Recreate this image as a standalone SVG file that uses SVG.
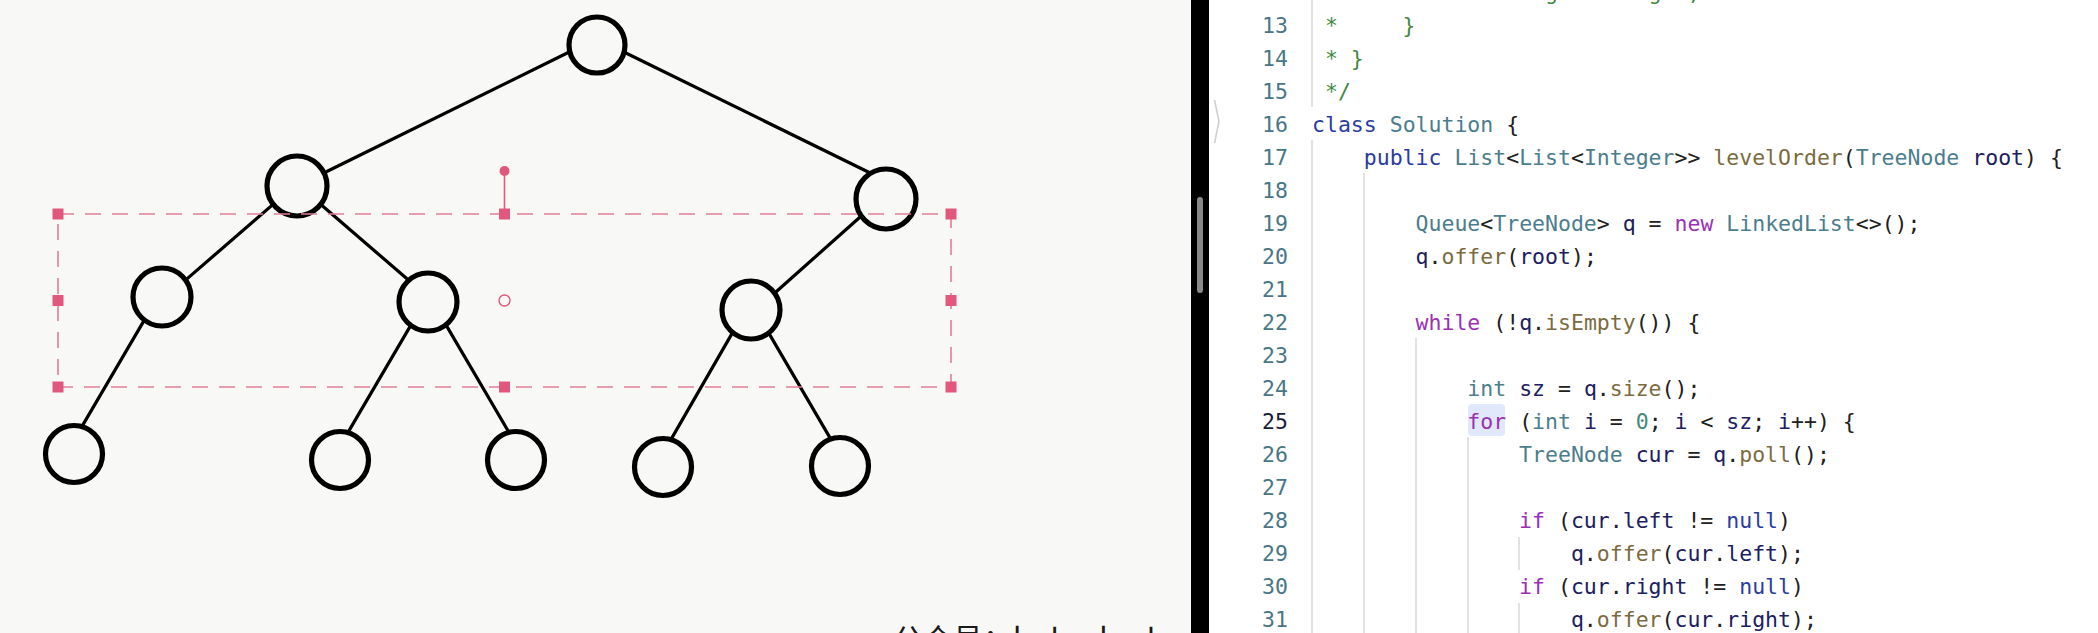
<svg xmlns="http://www.w3.org/2000/svg" width="2098" height="633" viewBox="0 0 2098 633" xml:space="preserve">
<defs>
<style>
.bg{fill:#f8f8f6}
.node{fill:#f8f8f6;stroke:#000;stroke-width:5.2}
.edge{stroke:#000;stroke-width:3.2;stroke-linecap:round;fill:none}
.sel{fill:none;stroke:#e27d99;stroke-width:1.6;stroke-dasharray:16 11}
.hdl{fill:#e2587c}
.code{font-family:"DejaVu Sans Mono","Liberation Mono",monospace;font-size:21.5px;fill:#202020;white-space:pre}
.ln{font-family:"DejaVu Sans Mono","Liberation Mono",monospace;font-size:21.5px;fill:#497686;text-anchor:end}
.cm{fill:#3e8a3e}
.kw{fill:#9b30b5}
.kw2{fill:#2b3ca0}
.ty{fill:#4b7d8d}
.fn{fill:#7b6b3e}
.va{fill:#1c2060}
.nu{fill:#3f8a78}
.guide{stroke:#d9d9d9;stroke-width:1.5}
</style>
</defs>
<rect class="bg" x="0" y="0" width="1191" height="633"/>
<rect x="1209" y="0" width="889" height="633" fill="#ffffff"/>

<g id="connectors">
<line class="edge" x1="573.8" y1="49.7" x2="319.2" y2="175.3"/>
<line class="edge" x1="617.2" y1="48.7" x2="872.8" y2="174.3"/>
<line class="edge" x1="279.1" y1="199.1" x2="178.9" y2="285.9"/>
<line class="edge" x1="315.9" y1="200.2" x2="415.1" y2="285.8"/>
<line class="edge" x1="148.1" y1="313.6" x2="77.9" y2="433.4"/>
<line class="edge" x1="414.1" y1="319.6" x2="343.9" y2="439.4"/>
<line class="edge" x1="442.9" y1="319.6" x2="513.1" y2="439.4"/>
<line class="edge" x1="868" y1="210" x2="768" y2="299"/>
<line class="edge" x1="736" y1="326.6" x2="667" y2="446.4"/>
<line class="edge" x1="765" y1="326.6" x2="835" y2="446.4"/>
</g>

<g id="node-root"><circle class="node" cx="597" cy="45" r="28"/></g>
<g id="node-l1-left"><circle class="node" cx="297" cy="186" r="30"/></g>
<g id="node-l1-right"><circle class="node" cx="886" cy="199" r="30"/></g>
<g id="node-l2-a"><circle class="node" cx="162" cy="297" r="29"/></g>
<g id="node-l2-b"><circle class="node" cx="428" cy="302" r="29"/></g>
<g id="node-l2-c"><circle class="node" cx="751" cy="310" r="29"/></g>
<g id="node-leaf-1"><circle class="node" cx="74" cy="454" r="28.5"/></g>
<g id="node-leaf-2"><circle class="node" cx="340" cy="460" r="28.5"/></g>
<g id="node-leaf-3"><circle class="node" cx="516" cy="460" r="28.5"/></g>
<g id="node-leaf-4"><circle class="node" cx="663" cy="467" r="28.5"/></g>
<g id="node-leaf-5"><circle class="node" cx="840" cy="466" r="28.5"/></g>

<g id="selection">
<rect class="sel" x="58" y="214" width="893" height="173"/>
<line x1="504.5" y1="175" x2="504.5" y2="210" stroke="#e2587c" stroke-width="1.6"/>
<circle cx="504.5" cy="171" r="5" fill="#e2587c"/>
<circle cx="504.5" cy="300.5" r="5.5" fill="none" stroke="#e2587c" stroke-width="1.4"/>
<rect class="hdl" x="52.5" y="208.5" width="11" height="11"/>
<rect class="hdl" x="499" y="208.5" width="11" height="11"/>
<rect class="hdl" x="945.5" y="208.5" width="11" height="11"/>
<rect class="hdl" x="52.5" y="295" width="11" height="11"/>
<rect class="hdl" x="945.5" y="295" width="11" height="11"/>
<rect class="hdl" x="52.5" y="381.5" width="11" height="11"/>
<rect class="hdl" x="499" y="381.5" width="11" height="11"/>
<rect class="hdl" x="945.5" y="381.5" width="11" height="11"/>
</g>

<text x="893" y="650" font-family="'Noto Sans CJK SC','Noto Sans',sans-serif" font-size="30" fill="#1a1a1a">公众号：<tspan letter-spacing="6">labuladong</tspan></text>

<g id="divider">
<rect x="1191" y="0" width="18" height="633" fill="#000"/>
<rect x="1197" y="197" width="6" height="96" rx="3" fill="#8a8a8a"/>
<path d="M1214.5,100 L1219,121.5 L1214.5,143" fill="none" stroke="#cfcfcf" stroke-width="1.6"/>
</g>

<g id="guides">
<line class="guide" x1="1312" y1="0" x2="1312" y2="107"/>
<line class="guide" x1="1312" y1="140" x2="1312" y2="633"/>
<line class="guide" x1="1364" y1="173" x2="1364" y2="633"/>
<line class="guide" x1="1416" y1="338" x2="1416" y2="633"/>
<line class="guide" x1="1468" y1="437" x2="1468" y2="633"/>
<line class="guide" x1="1519" y1="537" x2="1519" y2="570"/>
<line class="guide" x1="1519" y1="603" x2="1519" y2="633"/>
</g>

<rect x="1468" y="404" width="37" height="32" rx="4" fill="#e1e8fb"/>

<g id="line-numbers">
<text class="ln" x="1288" y="-0.2">12</text>
<text class="ln" x="1288" y="32.8">13</text>
<text class="ln" x="1288" y="65.8">14</text>
<text class="ln" x="1288" y="98.8">15</text>
<text class="ln" x="1288" y="131.8">16</text>
<text class="ln" x="1288" y="164.8">17</text>
<text class="ln" x="1288" y="197.8">18</text>
<text class="ln" x="1288" y="230.8">19</text>
<text class="ln" x="1288" y="263.8">20</text>
<text class="ln" x="1288" y="296.8">21</text>
<text class="ln" x="1288" y="329.8">22</text>
<text class="ln" x="1288" y="362.8">23</text>
<text class="ln" x="1288" y="395.8">24</text>
<text class="ln" x="1288" y="428.8" style="fill:#1a1a3a">25</text>
<text class="ln" x="1288" y="461.8">26</text>
<text class="ln" x="1288" y="494.8">27</text>
<text class="ln" x="1288" y="527.8">28</text>
<text class="ln" x="1288" y="560.8">29</text>
<text class="ln" x="1288" y="593.8">30</text>
<text class="ln" x="1288" y="626.8">31</text>
</g>

<g id="code">
<text class="code" x="1312" y="-0.2"><tspan class="cm"> *         this.right = right;</tspan></text>
<text class="code" x="1312" y="32.8"><tspan class="cm"> *     }</tspan></text>
<text class="code" x="1312" y="65.8"><tspan class="cm"> * }</tspan></text>
<text class="code" x="1312" y="98.8"><tspan class="cm"> */</tspan></text>
<text class="code" x="1312" y="131.8"><tspan class="kw2">class</tspan> <tspan class="ty">Solution</tspan> {</text>
<text class="code" x="1312" y="164.8">    <tspan class="kw2">public</tspan> <tspan class="ty">List</tspan>&lt;<tspan class="ty">List</tspan>&lt;<tspan class="ty">Integer</tspan>&gt;&gt; <tspan class="fn">levelOrder</tspan>(<tspan class="ty">TreeNode</tspan> <tspan class="va">root</tspan>) {</text>
<text class="code" x="1312" y="230.8">        <tspan class="ty">Queue</tspan>&lt;<tspan class="ty">TreeNode</tspan>&gt; <tspan class="va">q</tspan> = <tspan class="kw">new</tspan> <tspan class="ty">LinkedList</tspan>&lt;&gt;();</text>
<text class="code" x="1312" y="263.8">        <tspan class="va">q</tspan>.<tspan class="fn">offer</tspan>(<tspan class="va">root</tspan>);</text>
<text class="code" x="1312" y="329.8">        <tspan class="kw">while</tspan> (!<tspan class="va">q</tspan>.<tspan class="fn">isEmpty</tspan>()) {</text>
<text class="code" x="1312" y="395.8">            <tspan class="ty">int</tspan> <tspan class="va">sz</tspan> = <tspan class="va">q</tspan>.<tspan class="fn">size</tspan>();</text>
<text class="code" x="1312" y="428.8">            <tspan class="kw">for</tspan> (<tspan class="ty">int</tspan> <tspan class="va">i</tspan> = <tspan class="nu">0</tspan>; <tspan class="va">i</tspan> &lt; <tspan class="va">sz</tspan>; <tspan class="va">i</tspan>++) {</text>
<text class="code" x="1312" y="461.8">                <tspan class="ty">TreeNode</tspan> <tspan class="va">cur</tspan> = <tspan class="va">q</tspan>.<tspan class="fn">poll</tspan>();</text>
<text class="code" x="1312" y="527.8">                <tspan class="kw">if</tspan> (<tspan class="va">cur</tspan>.<tspan class="va">left</tspan> != <tspan class="kw2">null</tspan>)</text>
<text class="code" x="1312" y="560.8">                    <tspan class="va">q</tspan>.<tspan class="fn">offer</tspan>(<tspan class="va">cur</tspan>.<tspan class="va">left</tspan>);</text>
<text class="code" x="1312" y="593.8">                <tspan class="kw">if</tspan> (<tspan class="va">cur</tspan>.<tspan class="va">right</tspan> != <tspan class="kw2">null</tspan>)</text>
<text class="code" x="1312" y="626.8">                    <tspan class="va">q</tspan>.<tspan class="fn">offer</tspan>(<tspan class="va">cur</tspan>.<tspan class="va">right</tspan>);</text>
</g>
</svg>
